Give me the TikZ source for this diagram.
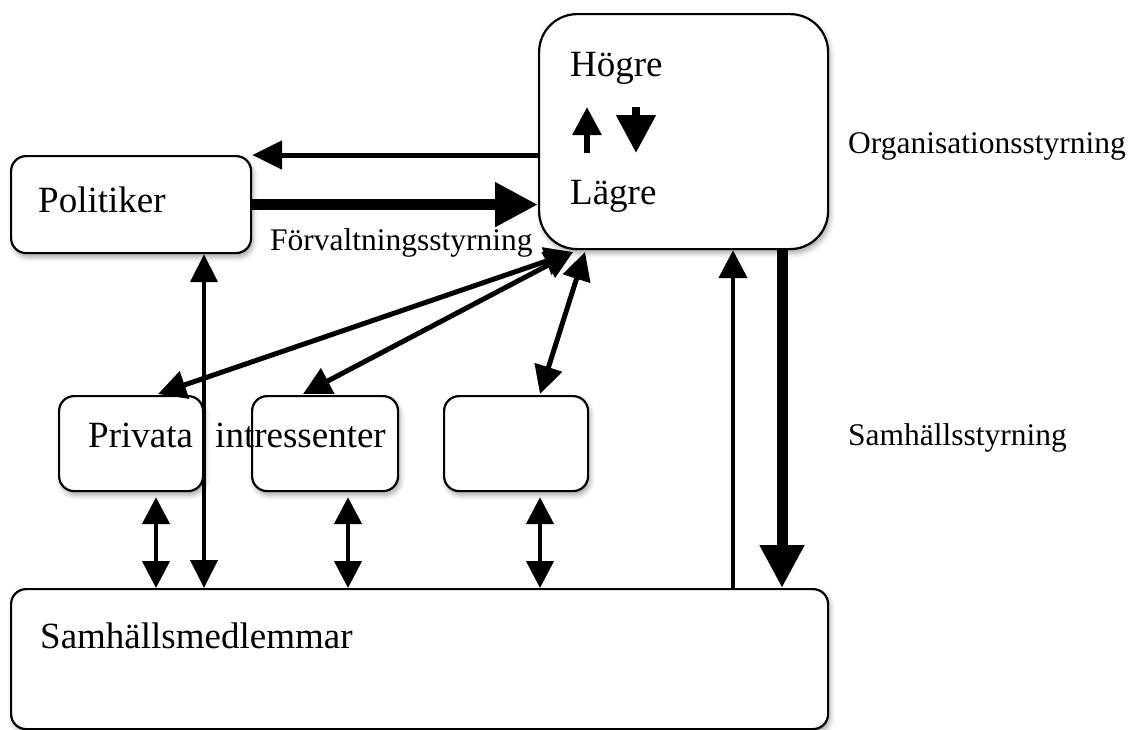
\documentclass[tikz,border=0pt]{standalone}
\usepackage{fontspec}
\setmainfont{Liberation Serif}
\usetikzlibrary{arrows.meta,shadows.blur}
\begin{document}
\begin{tikzpicture}[x=1pt,y=-1pt,
  box/.style={draw, line width=2.2pt, fill=white, rounded corners=15pt, anchor=north west, inner sep=0pt,
    blur shadow={shadow xshift=2pt, shadow yshift=-4pt, shadow blur radius=5pt, shadow opacity=35}},
  big/.style={font=\fontsize{37}{40}\selectfont, inner sep=0pt, anchor=base west},
  lab/.style={font=\fontsize{31.5}{34}\selectfont, inner sep=0pt, anchor=base west},
  thin/.style={line width=4.5pt, -{Triangle[length=28pt,width=28pt]}},
  thinboth/.style={line width=4.5pt, {Triangle[length=27pt,width=27pt]}-{Triangle[length=27pt,width=27pt]}},
  thick/.style={line width=11pt, -{Triangle[length=43pt,width=42pt]}}
]
\useasboundingbox (0,0) rectangle (1133,729);

% boxes
\node[box, rounded corners=38pt, minimum width=289pt, minimum height=235pt] (org) at (538,13) {};
\node[box, minimum width=240pt, minimum height=97pt] (pol) at (10,155) {};
\node[box, minimum width=144pt, minimum height=95pt] (priv) at (58,395) {};
\node[box, minimum width=146pt, minimum height=95pt] (intr) at (251,395) {};
\node[box, minimum width=144pt, minimum height=95pt] (empt) at (443,395) {};
\node[box, minimum width=817pt, minimum height=140pt] (samh) at (10,588) {};

% helper coordinates
\coordinate (xv) at (204,0);
\coordinate (xp) at (156,0);
\coordinate (xi) at (348,0);
\coordinate (xe) at (540,0);
\coordinate (xu) at (733,0);
\coordinate (xd) at (782,0);
\coordinate (oc1) at (573,252);
\coordinate (oc2) at (585,252);
\coordinate (tp) at (158,394);
\coordinate (ti) at (303,394);
\coordinate (te) at (540,394);

% texts
\node[big] (hog) at (570,76) {Högre};
\node[big] (lag) at (570,204) {Lägre};
\node[big] (tpol) at (38,212) {Politiker};
\node[big] (tpriv) at (88,447) {Privata\hspace{0.35em} intressenter};
\node[big] (tsamh) at (40,648) {Samhällsmedlemmar};
\node[lab] (tforv) at (270,250) {Förvaltningsstyrning};
\node[lab] (torg) at (848,153) {Organisationsstyrning};
\node[lab] (tss) at (848,445) {Samhällsstyrning};

% small arrows inside org
\draw[line width=6pt, -{Triangle[length=28pt,width=28pt]}] ([shift={(49,140)}]org.north west) -- ([shift={(49,94)}]org.north west);
\draw[line width=8pt, -{Triangle[length=38pt,width=38pt]}] ([shift={(98,94)}]org.north west) -- ([shift={(98,140)}]org.north west);

% connectors
\draw[line width=5pt, -{Triangle[length=30pt,width=28pt]}] (org.west |- pol.north) -- (pol.north east);
\draw[thick] (pol.east) -- (org.west |- pol.east);
\draw[line width=4pt, {Triangle[length=28pt,width=27pt]}-{Triangle[length=28pt,width=27pt]}] (pol.south -| xv) -- (samh.north -| xv);
\draw[thinboth, shorten <=5pt] (priv.south -| xp) -- (samh.north -| xp);
\draw[thinboth, shorten <=5pt] (intr.south -| xi) -- (samh.north -| xi);
\draw[thinboth, shorten <=5pt] (empt.south -| xe) -- (samh.north -| xe);
\draw[line width=5pt, {Triangle[length=28pt,width=28pt]}-{Triangle[length=28pt,width=28pt]}] (oc1) -- (tp);
\draw[line width=5pt, {Triangle[length=28pt,width=28pt]}-{Triangle[length=28pt,width=28pt]}] (oc1) -- (ti);
\draw[line width=5pt, {Triangle[length=28pt,width=28pt]}-{Triangle[length=28pt,width=28pt]}] (oc2) -- (te);
\draw[thick] (org.south -| xd) -- (samh.north -| xd);
\draw[thin] (samh.north -| xu) -- (org.south -| xu);
\end{tikzpicture}
\end{document}
